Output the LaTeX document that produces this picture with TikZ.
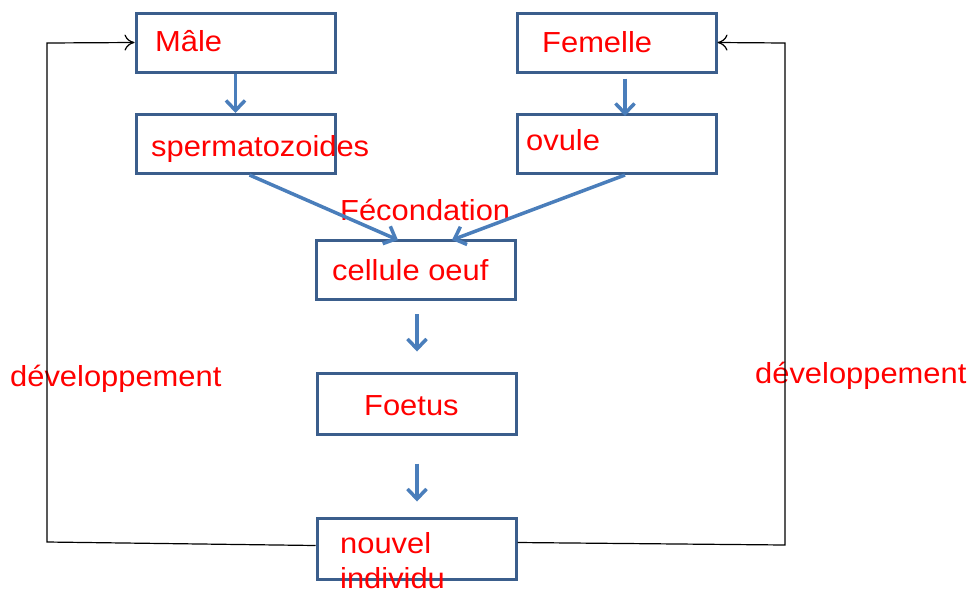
\documentclass[tikz,border=0pt]{standalone}
\usepackage{fontspec}
\setmainfont[FakeStretch=1.065]{Liberation Sans}
\usetikzlibrary{arrows.meta}
\definecolor{boxblue}{HTML}{3B5E8C}
\definecolor{arrblue}{HTML}{4A7EBB}
\definecolor{txtred}{HTML}{FF0000}
\begin{document}
\begin{tikzpicture}[x=1pt,y=-1pt,
  box/.style={draw=boxblue,line width=3pt,rectangle,inner sep=0pt,minimum width=199pt,minimum height=59pt},
  lbl/.style={text=txtred,font=\fontsize{29}{32}\selectfont,anchor=base west,inner sep=0pt},
  barrow/.style={draw=arrblue,line width=3.5pt,-{Straight Barb[length=10pt,width=19pt,line width=3.5pt]}},
  karrow/.style={draw=black,line width=1.2pt,-{To[length=10pt,width=16pt]}}]
\useasboundingbox (0,0) rectangle (971,592);
% boxes
\node[box] (male) at (235.5,42.5) {};
\node[box] (fem) at (616.5,42.5) {};
\node[box] (sperm) at (235.5,144) {};
\node[box] (ovule) at (616.5,144) {};
\node[box] (oeuf) at (416,270) {};
\node[box,minimum height=61pt] (foetus) at (416.5,403.5) {};
\node[box,minimum height=61pt] (nouvel) at (416.5,548.5) {};
% labels
\node[lbl] (tmale) at (155,51) {Mâle};
\node[lbl] (tfem) at (542,52) {Femelle};
\node[lbl] (tsperm) at (151,156) {spermatozoides};
\node[lbl] (tovule) at (526,150) {ovule};
\node[lbl] (tfec) at (340,220) {Fécondation};
\node[lbl] (toeuf) at (332,280) {cellule oeuf};
\node[lbl] (tfoetus) at (364,415) {Foetus};
\node[lbl] (tnouv) at (340,553) {nouvel};
\node[lbl] (tind) at (340,588) {individu};
\node[lbl] (tdevl) at (10,386) {développement};
\node[lbl] (tdevr) at (755,383) {développement};
% blue arrows
\draw[barrow] (male.south) -- (sperm.north);
\draw[barrow] ([xshift=8.5pt,yshift=-5pt]fem.south) -- ([xshift=8.5pt,yshift=-3pt]ovule.north);
\draw[barrow] ([xshift=14pt]sperm.south) -- ([xshift=-18pt,yshift=-1pt]oeuf.north);
\draw[barrow] ([xshift=8.5pt]ovule.south) -- ([xshift=36pt,yshift=-1pt]oeuf.north);
\draw[barrow] ([xshift=1pt,yshift=-13pt]oeuf.south) -- ([xshift=0.5pt,yshift=20pt]foetus.north);
\draw[barrow] ([xshift=0.5pt,yshift=-28pt]foetus.south) -- ([xshift=0.5pt,yshift=15pt]nouvel.north);
% black feedback lines
\coordinate (l1) at (47,542);
\coordinate (l2) at (47,43);
\coordinate (r1) at (785,545);
\coordinate (r2) at (785,43);
\draw[karrow] ([yshift=3pt]nouvel.west) -- (l1) -- (l2) -- (male.west);
\draw[karrow] ([yshift=6pt]nouvel.east) -- (r1) -- (r2) -- (fem.east);
\end{tikzpicture}
\end{document}
